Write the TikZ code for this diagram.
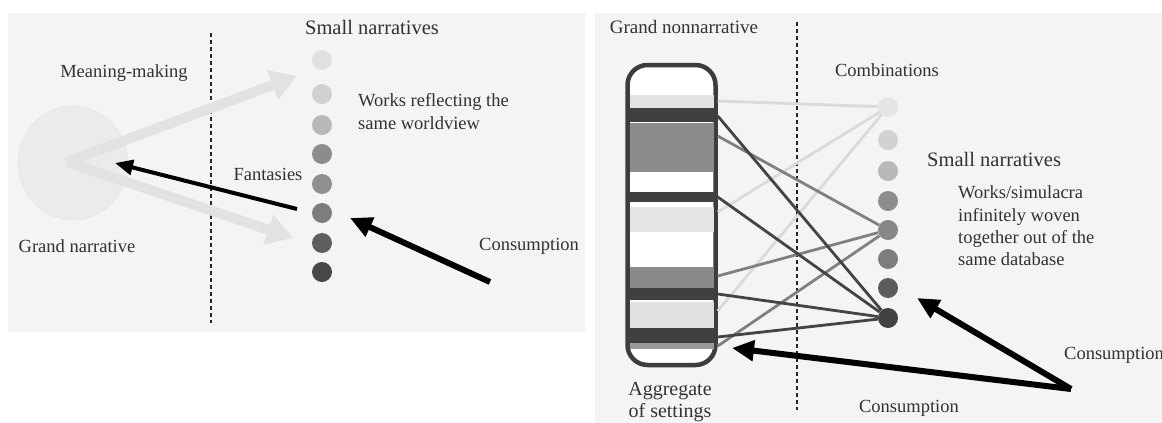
\documentclass[tikz,border=0pt]{standalone}
\usepackage{fontspec}
\setmainfont{Liberation Serif}
\usepackage{tikz}
\usepackage{xcolor}
\usetikzlibrary{arrows.meta, positioning, shapes.geometric}
\definecolor{mybg}{RGB}{244,244,244}
\definecolor{mytext}{RGB}{50,50,50}
\definecolor{myfat}{RGB}{226,226,226}
\definecolor{mylight}{RGB}{218,218,218}
\definecolor{mymid}{RGB}{128,128,128}
\definecolor{mydark}{RGB}{68,68,68}

\begin{document}
\begin{tikzpicture}[x=1pt,y=-1pt,
  lbl/.style={text=mytext,inner sep=0pt,font=\fontsize{18.5}{23}\selectfont},
  big/.style={text=mytext,inner sep=0pt,font=\fontsize{20.5}{23}\selectfont},
  sdot/.style={circle,inner sep=0pt,minimum size=20pt},
  divider/.style={line width=2.4pt,dash pattern=on 3.5pt off 3.5pt,black!85},
  band/.style={line width=2.8pt},
  cons/.style={black,line width=6pt,-{Triangle[length=22pt,width=20pt]}}]
        \fill[white](0,0) rectangle (1162,423);
        \useasboundingbox (0,0) rectangle (1162,423);
        \fill[mybg](8,13) rectangle (585,332);
        \fill[mybg](595,13) rectangle (1162,423);

        % left panel
        \node[ellipse,minimum width=110pt,minimum height=114pt,fill=black!8,draw=black!11] (gn) at (73,163){};
        \draw[divider](211,33)--(211,323);
        \node[sdot,fill=black!12] (l1) at (322,60){};
        \node[sdot,fill=black!18] (l2) at (322,94){};
        \node[sdot,fill=black!28] (l3) at (322,125){};
        \node[sdot,fill=black!45] (l4) at (322,154){};
        \node[sdot,fill=black!44] (l5) at (322,184){};
        \node[sdot,fill=black!51] (l6) at (322,213){};
        \node[sdot,fill=black!63] (l7) at (322,243){};
        \node[sdot,fill=black!72] (l8) at (322,272){};
        \coordinate (apex) at (67,162);
        \coordinate (mk) at (297,76);
        \coordinate (ft) at (293,238);
        \draw[myfat,line width=10pt,line join=bevel,
          {Triangle[length=26pt,width=30pt]}-{Triangle[length=26pt,width=30pt]}](mk)--(apex)--(ft);
        \coordinate (fa) at (297,209);
        \coordinate (gnc) at (115,163);
        \draw[black,line width=4pt,-{Triangle[length=18pt,width=15pt]}](fa)--(gnc);
        \coordinate (cla) at (490,282);
        \coordinate (clt) at (350,218);
        \draw[cons](cla)--(clt);
        \node[big] (snl) at (372,27){Small narratives};
        \node[lbl] (mm) at (124,73){Meaning-making};
        \node[lbl,align=left,anchor=west] (wr) at (358,112){Works reflecting the\\same worldview};
        \node[lbl] (fan) at (268,174){Fantasies};
        \node[lbl] (gnt) at (77,246){Grand narrative};
        \node[lbl,anchor=west] (cl) at (479,246){Consumption};

        % right panel
        \node[lbl,font=\fontsize{19}{23}\selectfont] (gnn) at (684,27){Grand nonnarrative};
        \draw[divider](797,22)--(797,410);
        \node[draw=black!76,line width=4.5pt,rounded corners=20pt,fill=white,inner sep=0pt,
          minimum width=88pt,minimum height=300pt] (agg) at (671.5,215){};
        \fill[black!11](629.5,95) rectangle (713.5,108);
        \fill[black!75](629.5,108) rectangle (713.5,122);
        \fill[black!45](629.5,123) rectangle (713.5,172);
        \fill[black!75](629.5,192) rectangle (713.5,202);
        \fill[black!10](629.5,207) rectangle (713.5,232);
        \fill[black!46](629.5,267) rectangle (713.5,288);
        \fill[black!75](629.5,288) rectangle (713.5,300);
        \fill[black!12](629.5,302) rectangle (713.5,328);
        \fill[black!75](629.5,328) rectangle (713.5,343);
        \fill[black!40](629.5,343) rectangle (713.5,349);
        \node[sdot,fill=black!10] (r1) at (888,107){};
        \node[sdot,fill=black!18] (r2) at (888,140){};
        \node[sdot,fill=black!28] (r3) at (888,171){};
        \node[sdot,fill=black!45] (r4) at (888,201){};
        \node[sdot,fill=black!47] (r5) at (888,230){};
        \node[sdot,fill=black!51] (r6) at (888,259){};
        \node[sdot,fill=black!64] (r7) at (888,288){};
        \node[sdot,fill=black!74] (r8) at (888,318){};
        \draw[band,mylight](agg.east|-0,101)--(r1);
        \draw[band,mylight](agg.east|-0,212)--(r1);
        \draw[band,mylight](agg.east|-0,311)--(r1);
        \draw[band,mymid](agg.east|-0,136)--(r5);
        \draw[band,mymid](agg.east|-0,276)--(r5);
        \draw[band,mymid](agg.east|-0,346)--(r5);
        \draw[band,mydark](agg.east|-0,116)--(r8);
        \draw[band,mydark](agg.east|-0,197)--(r8);
        \draw[band,mydark](agg.east|-0,294)--(r8);
        \draw[band,mydark](agg.east|-0,337)--(r8);
        \coordinate (rc) at (1071,389);
        \coordinate (rt) at (917,298);
        \coordinate (at) at (732,348);
        \draw[cons](rc)--(rt);
        \draw[cons](rc)--(at);
        \node[lbl] (comb) at (887,70){Combinations};
        \node[big,anchor=west] (snr) at (927,159){Small narratives};
        \node[lbl,align=left,anchor=west,font=\fontsize{18.5}{22.4}\selectfont] (ws) at (958,226)
          {Works/simulacra\\infinitely woven\\together out of the\\same database};
        \node[lbl,align=center,font=\fontsize{20}{22}\selectfont] (ags) at (670,402){Aggregate\\of settings};
        \node[lbl,anchor=west] (cr) at (1064,355){Consumption};
        \node[lbl] (cb) at (909,408){Consumption};
      \end{tikzpicture}
\end{document}
